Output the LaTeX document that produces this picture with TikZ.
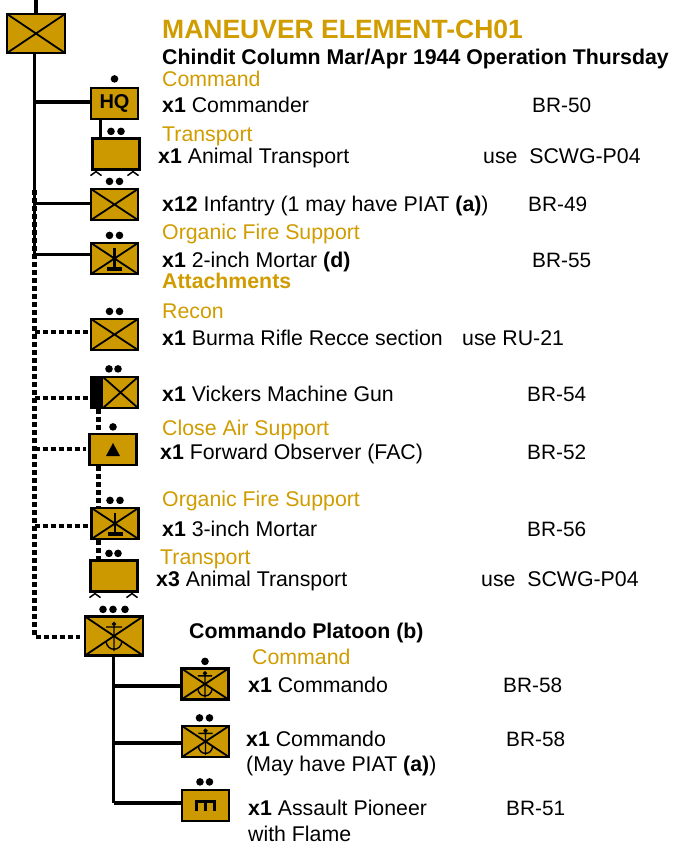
\documentclass[tikz,border=0pt]{standalone}
\usepackage{fontspec}
\setmainfont{Liberation Sans}
\usepackage{xcolor}
\usetikzlibrary{positioning}
\definecolor{khaki}{HTML}{CC9900}
\definecolor{heading}{HTML}{D09C00}
\newcommand{\pips}[3]{\foreach \dx in {#2} \fill ([shift={(\dx,#3)}]#1.north) circle (3.8);}
\begin{document}
\begin{tikzpicture}[x=1pt,y=-1pt,
 unit/.style={draw=black,fill=khaki,line width=2.2pt,inner sep=0pt,minimum width=47pt,minimum height=31pt},
 bigunit/.style={unit,minimum width=58pt,minimum height=39pt},
 cross/.style={path picture={\draw[line width=1.8pt] (path picture bounding box.north west)--(path picture bounding box.south east) (path picture bounding box.north east)--(path picture bounding box.south west);}},
 mgband/.style={path picture={\fill[black] ([xshift=-1pt]path picture bounding box.north west) rectangle ([xshift=12pt]path picture bounding box.south west);
  \draw[line width=1.8pt] ([xshift=12pt]path picture bounding box.north west)--(path picture bounding box.south east) ([xshift=12pt]path picture bounding box.south west)--(path picture bounding box.north east);}},
 txt/.style={anchor=base west,inner sep=0pt,font=\fontsize{21.3}{24}\selectfont},
 code/.style={txt,font=\fontsize{20.8}{24}\selectfont},
 head/.style={txt,text=heading},
 boldtxt/.style={txt,font=\fontsize{21.3}{24}\selectfont\bfseries},
 solid3/.style={line width=3.8pt},
 dotted4/.style={line width=4.8pt,dash pattern=on 5pt off 3pt},
 mortarsym/.pic={\draw[line width=2.2pt] (0,-10.5)--(0,10.5);\draw[line width=3.2pt] (-7.5,10.5)--(7.5,10.5);},
 anchorsym/.pic={\draw[line width=1.4pt] (0,-12) circle (1.5) (-8,-9)--(8,-9) (0,-10.5)--(0,15) (-8,5) .. controls (-7,16) and (7,16) .. (8,5);},
 pioneersym/.pic={\draw[line width=3.8pt] (-10.5,-4)--(10.5,-4);\draw[line width=3.2pt] (-9,-4)--(-9,5.5) (0,-4)--(0,5.5) (9,-4)--(9,5.5);},
 chevron/.pic={\draw[line width=1.5pt] (-5.5,5)--(0,1)--(5.5,5);}]
\useasboundingbox (0,0) rectangle (672,845);

\node[bigunit,cross] (column) at (36,33.5) {};
\node[unit] (hq) at (114.5,103.5) {\fontsize{20}{22}\selectfont\textbf{HQ}};
\node[unit] (transport) at (116,154) {};
\node[unit,cross] (infantry) at (114.5,204.5) {};
\node[unit,cross] (mortar) at (114.5,258.5) {};
\node[unit,cross] (recon) at (114.5,334.5) {};
\node[unit,mgband] (vickers) at (114.5,392.5) {};
\node[unit] (fac) at (113,449.5) {};
\node[unit,cross] (mortarb) at (115,523.5) {};
\node[unit] (transportb) at (114,576) {};
\node[bigunit,cross] (commando) at (114,636) {};
\node[unit,cross] (cmdoa) at (205,684) {};
\node[unit,cross] (cmdob) at (205.5,741.5) {};
\node[unit] (pioneer) at (205.5,805.5) {};

\pic at (mortar.center) {mortarsym};
\pic at (mortarb.center) {mortarsym};
\pic at (commando.center) {anchorsym};
\pic[scale=.9] at (cmdoa.center) {anchorsym};
\pic[scale=.9] at (cmdob.center) {anchorsym};
\pic at (pioneer.center) {pioneersym};
\pic at ([xshift=-20pt]transport.south) {chevron};
\pic at ([xshift=17pt]transport.south) {chevron};
\pic at ([xshift=-19pt]transportb.south) {chevron};
\pic at ([xshift=18pt]transportb.south) {chevron};
\fill (fac.center) ++(-7,6.5) -- ++(14,0) -- ++(-7,-13) -- cycle;

\pips{hq}{0}{-8}
\pips{transport}{-5,5}{-6}
\pips{infantry}{-5,5}{-6.5}
\pips{mortar}{-5,5}{-6.5}
\pips{recon}{-5,5}{-6.5}
\pips{vickers}{-5.5,3.5}{-7}
\pips{fac}{0}{-6}
\pips{mortarb}{-5,5}{-6.5}
\pips{transportb}{-5,4}{-6}
\pips{commando}{-11,-1,11}{-6}
\pips{cmdoa}{0}{-6}
\pips{cmdob}{-6,4}{-7}
\pips{pioneer}{-5.5,4}{-7}

\coordinate (top) at (36,0);
\coordinate (trunk) at (34.5,54);
\coordinate (trunkmid) at (34.5,190);
\coordinate (trunkend) at (34.5,255);
\coordinate (hqj) at (34.5,102);
\coordinate (infj) at (34.5,203.5);
\coordinate (morj) at (34.5,254);
\coordinate (recj) at (34.5,332);
\coordinate (vicj) at (34.5,398);
\coordinate (facj) at (34.5,449);
\coordinate (mobj) at (34.5,526);
\coordinate (cmdj) at (34.5,637);
\coordinate (feed) at (98.5,409);
\coordinate (subj) at (113.5,656);
\coordinate (subaj) at (113.5,686);
\coordinate (subbj) at (113.5,743);
\coordinate (subcj) at (113.5,803);

\draw[solid3] (top)--(column.north -| top);
\draw[solid3] (trunk)--(trunkend);
\draw[line width=4.5pt] (hqj)--(hqj -| hq.west);
\draw[line width=3.5pt] (infj)--(infj -| infantry.west);
\draw[line width=3pt] (morj)--(morj -| mortar.west);
\draw[solid3] ([xshift=-14pt]hq.south)--([xshift=-15.5pt]transport.north);
\draw[dotted4] (trunkmid)--(cmdj)--([xshift=-4pt]cmdj -| commando.west);
\draw[dotted4] (recj)--([xshift=-2pt]recj -| recon.west);
\draw[dotted4] (vicj)--([xshift=-2pt]vicj -| vickers.west);
\draw[dotted4] (facj)--([xshift=-2pt]facj -| fac.west);
\draw[dotted4] (mobj)--([xshift=-2pt]mobj -| mortarb.west);
\draw[dotted4] (feed)--(feed |- fac.north);
\draw[dotted4] (feed |- fac.south)--(feed |- mortarb.north);
\draw[dotted4] (feed |- mortarb.south)--(feed |- transportb.north);
\draw[solid3] (subj)--(subcj);
\draw[solid3] (subaj)--(subaj -| cmdoa.west);
\draw[solid3] (subbj)--(subbj -| cmdob.west);
\draw[solid3] (subcj)--(subcj -| pioneer.west);

\node[head,font=\fontsize{26.5}{30}\selectfont\bfseries] (title) at (162,39) {MANEUVER ELEMENT-CH01};
\node[boldtxt] (subtitle) at (162,65) {Chindit Column Mar/Apr 1944 Operation Thursday};
\node[head] (hcommand) at (162,87) {Command};
\node[txt] (lcommander) at (162,113) {\textbf{x1} Commander};
\node[code] (rcommander) at (532,113) {BR-50};
\node[head] (htransport) at (162,142) {Transport};
\node[txt] (ltransport) at (158,164) {\textbf{x1} Animal Transport};
\node[txt] (rtransport) at (483,164) {use\ \ SCWG-P04};
\node[txt] (linfantry) at (162,211) {\textbf{x12} Infantry (1 may have PIAT \textbf{(a)})};
\node[code] (rinfantry) at (528,211) {BR-49};
\node[head] (hfire) at (162,239) {Organic Fire Support};
\node[txt] (lmortar) at (162,267) {\textbf{x1} 2-inch Mortar \textbf{(d)}};
\node[code] (rmortar) at (532,267) {BR-55};
\node[head,font=\fontsize{21.3}{24}\selectfont\bfseries] (hattach) at (162,288) {Attachments};
\node[head] (hrecon) at (162,318) {Recon};
\node[txt] (lrecon) at (162,345) {\textbf{x1} Burma Rifle Recce section};
\node[txt] (rrecon) at (462,345) {use RU-21};
\node[txt] (lvickers) at (162,401) {\textbf{x1} Vickers Machine Gun};
\node[code] (rvickers) at (527,401) {BR-54};
\node[head] (hair) at (162,435) {Close Air Support};
\node[txt] (lfac) at (160,459) {\textbf{x1} Forward Observer (FAC)};
\node[code] (rfac) at (527,459) {BR-52};
\node[head] (hfireb) at (162,506) {Organic Fire Support};
\node[txt] (lmortarb) at (162,536) {\textbf{x1} 3-inch Mortar};
\node[code] (rmortarb) at (527,536) {BR-56};
\node[head] (htransportb) at (160,564) {Transport};
\node[txt] (ltransportb) at (156,586) {\textbf{x3} Animal Transport};
\node[txt] (rtransportb) at (481,586) {use\ \ SCWG-P04};
\node[boldtxt] (hplatoon) at (189,638) {Commando Platoon (b)};
\node[head] (hcommandb) at (252,664) {Command};
\node[txt] (lcmdoa) at (248,692) {\textbf{x1} Commando};
\node[code] (rcmdoa) at (503,692) {BR-58};
\node[txt] (lcmdob) at (246,746) {\textbf{x1} Commando};
\node[code] (rcmdob) at (506,746) {BR-58};
\node[txt] (lpiat) at (246,771) {(May have PIAT \textbf{(a)})};
\node[txt] (lpioneer) at (248,815) {\textbf{x1} Assault Pioneer};
\node[code] (rpioneer) at (506,815) {BR-51};
\node[txt] (lflame) at (248,841) {with Flame};
\end{tikzpicture}
\end{document}
